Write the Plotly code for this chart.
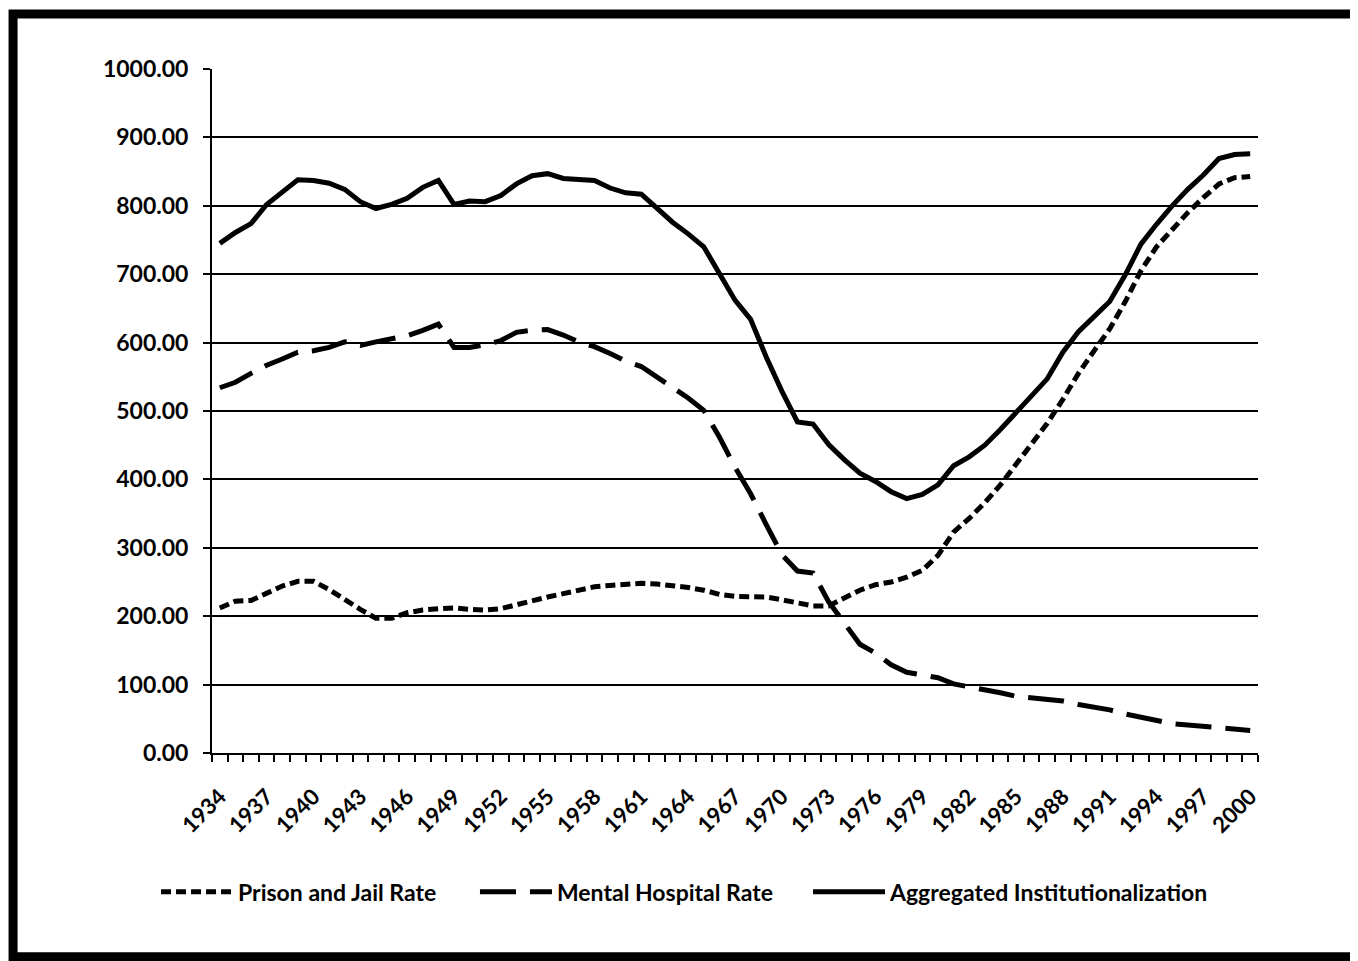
import plotly.graph_objects as go

years = list(range(1934, 2001))

prison = [212, 222, 223, 234, 244, 251, 251, 239, 224, 210, 197, 197, 205, 209, 211, 212, 210, 209, 211, 217,
          223, 228, 233, 238, 243, 245, 247, 248, 247, 245, 242, 238, 232, 229, 229, 228, 224, 219, 215, 215,
          226, 238, 246, 250, 257, 267, 289, 323, 343, 366, 392, 422, 452, 482, 517, 555, 588, 620, 660, 705,
          740, 766, 790, 812, 832, 841, 843]

hospital = [534, 542, 555, 567, 576, 586, 588, 593, 601, 596, 601, 606, 610, 618, 627, 593, 593, 597, 603, 615,
            618, 619, 611, 601, 594, 584, 573, 565, 550, 534, 519, 501, 462, 418, 379, 334, 290, 266, 263, 221,
            190, 159, 146, 129, 118, 114, 110, 101, 97, 92, 88, 83, 81, 79, 76, 71, 67, 63, 57, 52,
            48, 43, 41, 39, 38, 36, 33]

aggregated = [745, 761, 774, 802, 820, 838, 837, 833, 824, 806, 796, 802, 811, 827, 837, 802, 807, 806, 815, 832,
              844, 847, 840, 839, 837, 826, 819, 817, 796, 776, 759, 740, 701, 662, 634, 579, 529, 484, 481, 451,
              429, 409, 397, 382, 372, 378, 392, 420, 433, 450, 473, 498, 522, 547, 586, 616, 638, 660, 699, 744,
              773, 800, 824, 845, 869, 875, 876]

label_years = list(range(1934, 2001, 3))
y_ticks = [0, 100, 200, 300, 400, 500, 600, 700, 800, 900, 1000]

FONT = "Lato"

fig = go.Figure()
fig.add_trace(go.Scatter(x=years, y=prison, mode="lines", name="Prison and Jail Rate", legend="legend",
                         line=dict(color="black", width=5, dash="10px,5px")))
fig.add_trace(go.Scatter(x=years, y=hospital, mode="lines", name="Mental Hospital Rate", legend="legend2",
                         line=dict(color="black", width=5, dash="36px,14px")))
fig.add_trace(go.Scatter(x=years, y=aggregated, mode="lines", name="Aggregated Institutionalization",
                         legend="legend3", line=dict(color="black", width=5)))

legend_common = dict(orientation="h", y=-0.203, xanchor="left", yanchor="middle",
                     font=dict(family=FONT, size=23, color="black", weight="bold"),
                     itemwidth=72, bgcolor="rgba(0,0,0,0)")

fig.update_layout(
    width=1350, height=953,
    margin=dict(l=204, r=100, t=61, b=208),
    paper_bgcolor="white", plot_bgcolor="white",
    font=dict(family=FONT, color="black"),
    showlegend=True,
    legend=dict(x=-0.0535, **legend_common),
    legend2=dict(x=0.2514, **legend_common),
    legend3=dict(x=0.5698, **legend_common),
    xaxis=dict(
        range=[1933.5, 2000.5], showgrid=False, zeroline=False,
        tickmode="array", tickvals=label_years, ticktext=[str(y) for y in label_years],
        tickangle=-45, ticks="", ticklabelstandoff=20,
        tickfont=dict(family=FONT, size=22, color="black", weight="bold"),
        showline=True, linecolor="black", linewidth=2,
        minor=dict(tickmode="array", tickvals=[y - 0.5 for y in years] + [2000.5],
                   ticks="outside", ticklen=7, tickcolor="black", tickwidth=1.5, showgrid=False),
    ),
    yaxis=dict(
        range=[0, 1000], tickmode="array", tickvals=y_ticks, tickformat=".2f",
        showgrid=True, gridcolor="black", gridwidth=1.5, zeroline=False,
        showline=True, linecolor="black", linewidth=2,
        ticks="outside", ticklen=7, tickcolor="black", tickwidth=1.5, ticklabelstandoff=10,
        tickfont=dict(family=FONT, size=23, color="black", weight="bold"),
    ),
)

fig.add_shape(type="rect", xref="paper", yref="paper",
              x0=-0.1902, x1=1.105, y0=-0.298, y1=1.0804,
              line=dict(color="black", width=9), fillcolor="rgba(0,0,0,0)", layer="above")

fig.write_html("out.html")
